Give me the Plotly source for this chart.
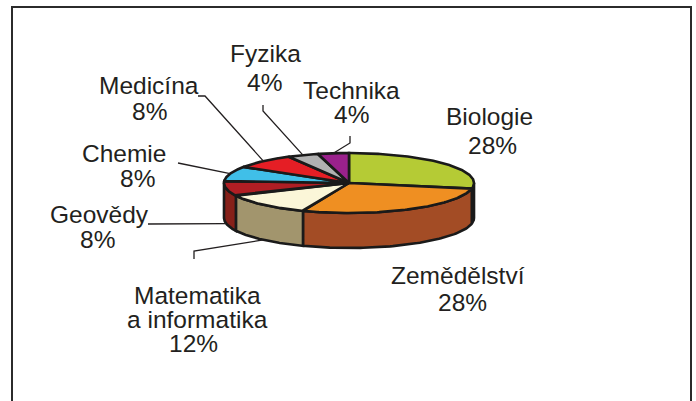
import numpy as np
import plotly.graph_objects as go

# ---- data ----
categories = ["Biologie", "Zemědělství", "Matematika a informatika", "Geovědy",
              "Chemie", "Medicína", "Fyzika", "Technika"]
values = [28, 28, 12, 8, 8, 8, 4, 4]
label_lines = [["Biologie"], ["Zemědělství"], ["Matematika", "a informatika"], ["Geovědy"],
               ["Chemie"], ["Medicína"], ["Fyzika"], ["Technika"]]

# ---- styles ----
top_colors = ["#b5cb35", "#ef8f22", "#fbf6d8", "#b01e24", "#40bfe8", "#e51e25", "#b1b1b1", "#9a218c"]
side_colors = ["#3a4212", "#a34c25", "#a2956d", "#862019", "#2a86a3", "#a0151a", "#7a7a7a", "#6b1762"]

W, H = 696, 401
cx, cy, rx, ry, depth = 349, 183, 125, 30, 35
FONT = dict(family="Liberation Sans, Arial, sans-serif", size=24.5, color="#231f20")

# label line centres (layout), one list per category
label_pos = [
    [(489, 116), (492, 145)],
    [(458, 275), (462, 302)],
    [(197, 295), (197, 319), (193, 343)],
    [(99, 214), (97, 239)],
    [(124, 153), (137, 178)],
    [(149, 85), (149, 111)],
    [(265, 53), (264, 82)],
    [(351, 90), (351, 114)],
]
# leader start points (label side), None for no leader
leader_from = [None, None, [(194, 259), (194, 251)], [(148, 224)], [(178, 163)],
               [(198, 96), (205, 96)], [(263, 105), (263, 111)], [(350, 136), (350, 143)]]
leader_bottom = [0, 0, 1, 1, 0, 0, 0, 0]

total = sum(values)
cum = np.concatenate([[0], np.cumsum(values)])
a_start = 90 - 360 * cum[:-1] / total   # degrees, clockwise
a_end = 90 - 360 * cum[1:] / total


def ex(t):
    return cx + rx * np.cos(np.radians(t))


def ey(t):
    return cy - ry * np.sin(np.radians(t))


fig = go.Figure()
line_style = dict(color="#1a1a1a", width=2.6)

# side walls (front half: angles between -180 and 0)
for i in range(len(values)):
    t1, t2 = a_start[i], a_end[i]
    lo, hi = max(t2, -180), min(t1, 0)
    if hi <= lo:
        continue
    ts = np.linspace(hi, lo, 80)
    xs = np.concatenate([ex(ts), ex(ts[::-1])])
    ys = np.concatenate([ey(ts), ey(ts[::-1]) + depth])
    fig.add_trace(go.Scatter(x=np.append(xs, xs[0]), y=np.append(ys, ys[0]), mode="lines",
                             fill="toself", fillcolor=side_colors[i], line=line_style,
                             hoverinfo="skip", showlegend=False))

# top faces
for i in range(len(values)):
    ts = np.linspace(a_start[i], a_end[i], 120)
    xs = np.concatenate([[cx], ex(ts), [cx]])
    ys = np.concatenate([[cy], ey(ts), [cy]])
    fig.add_trace(go.Scatter(x=xs, y=ys, mode="lines", fill="toself",
                             fillcolor=top_colors[i], line=line_style,
                             name=categories[i], hoverinfo="name", showlegend=False))

# leader lines
for i in range(len(values)):
    if leader_from[i] is None:
        continue
    mid = (a_start[i] + a_end[i]) / 2
    px, py = ex(mid), ey(mid) + depth * leader_bottom[i]
    xs = [p[0] for p in leader_from[i]] + [px]
    ys = [p[1] for p in leader_from[i]] + [py]
    fig.add_trace(go.Scatter(x=xs, y=ys, mode="lines", line=dict(color="#231f20", width=1.3),
                             hoverinfo="skip", showlegend=False))

# labels
for i in range(len(values)):
    lines = label_lines[i] + [f"{values[i] / total * 100:.0f}%"]
    for txt, (lx, ly) in zip(lines, label_pos[i]):
        fig.add_annotation(x=lx, y=ly, text=txt, showarrow=False, xanchor="center",
                           yanchor="middle", font=FONT)

fig.add_shape(type="rect", x0=12, y0=7, x1=691, y1=420, line=dict(color="#2b2b2b", width=2),
              layer="below")

fig.update_layout(width=W, height=H, autosize=False, margin=dict(l=0, r=0, t=0, b=0),
                  paper_bgcolor="white", plot_bgcolor="white",
                  xaxis=dict(range=[0, W], visible=False, fixedrange=True),
                  yaxis=dict(range=[H, 0], visible=False, fixedrange=True))
fig.write_html("out.html", config={"displayModeBar": False},
               post_script="document.body.style.margin='0px';document.body.style.overflow='hidden';")
